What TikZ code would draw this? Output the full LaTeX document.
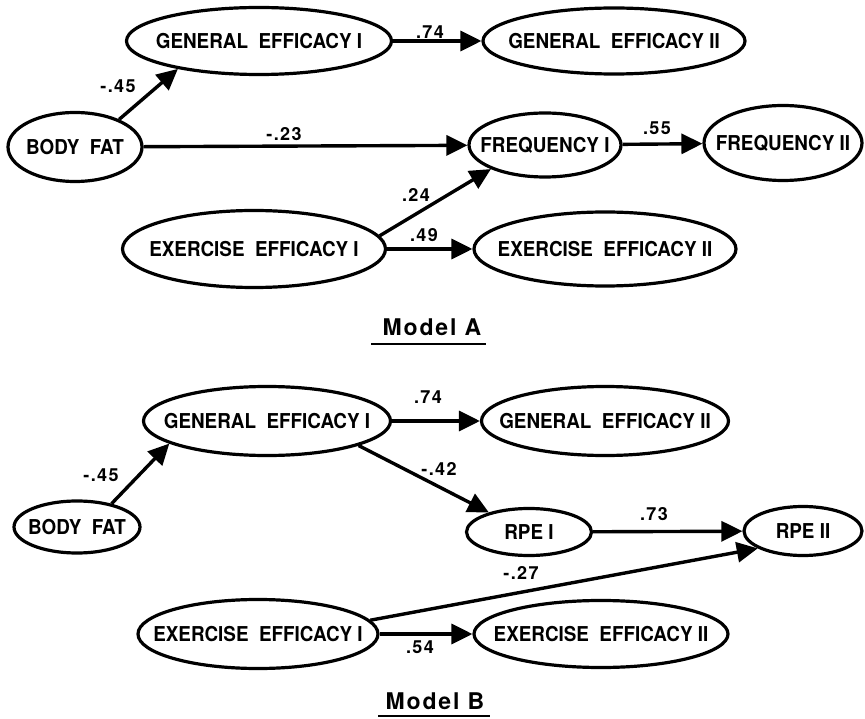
\documentclass[tikz,border=0pt]{standalone}
\usepackage{fontspec}
\setmainfont{TeX Gyre Heros}
\newfontfamily\titlefont[LetterSpace=8]{TeX Gyre Heros}
\newfontfamily\labfont[LetterSpace=8]{TeX Gyre Heros}
\newfontfamily\nodefont[FakeStretch=0.92]{TeX Gyre Heros}
\usetikzlibrary{shapes.geometric,arrows.meta}
\begin{document}
\begin{tikzpicture}[x=1pt,y=-1pt,
  var/.style={draw, ellipse, line width=3.2pt, inner sep=0pt,
    label={[inner sep=0pt, font=\fontsize{20.5}{22}\selectfont\nodefont\bfseries]center:#1}},
  lab/.style={inner sep=0pt, font=\fontsize{18}{20}\selectfont\labfont\bfseries},
  path/.style={line width=3.4pt, -{Triangle[length=21pt,width=20pt]}},
  ttl/.style={inner sep=0pt, font=\fontsize{23}{26}\selectfont\titlefont\bfseries},
  uline/.style={line width=2.6pt}]
\useasboundingbox (0,0) rectangle (865,719);
% ---------------- Model A
\node[var={GENERAL\ \ EFFICACY\ I}, minimum width=265pt, minimum height=67pt] (ageI) at (259,41) {};
\node[var={GENERAL\ \ EFFICACY\ II}, minimum width=262pt, minimum height=66pt] (ageII) at (614,41) {};
\node[var={BODY\ \ FAT}, minimum width=134pt, minimum height=69pt] (abf) at (75,147) {};
\node[var={FREQUENCY\ I}, minimum width=152pt, minimum height=64pt] (afrI) at (545,145) {};
\node[var={FREQUENCY\ II}, minimum width=158pt, minimum height=75pt] (afrII) at (783,143) {};
\node[var={EXERCISE\ \ EFFICACY\ I}, minimum width=263pt, minimum height=77pt] (aeeI) at (254,249) {};
\node[var={EXERCISE\ \ EFFICACY\ II}, minimum width=262pt, minimum height=74pt] (aeeII) at (605,249) {};

\draw[path] (abf.32) -- (ageI.199);
\draw[path] (ageI) -- (ageII);
\draw[path] (abf) -- (afrI);
\draw[path] (aeeI.6) -- (afrI.204);
\draw[path] (aeeI) -- (aeeII);
\draw[path] (afrI) -- (afrII);

\node[lab] (la1) at (118,86) {-.45};
\node[lab] (la2) at (430,32) {.74};
\node[lab] (la3) at (284,134) {-.23};
\node[lab] (la4) at (416,195) {.24};
\node[lab] (la5) at (424,235) {.49};
\node[lab] (la6) at (657,128) {.55};

\node[ttl] (ta) at (432,327) {Model A};
\coordinate (ua1) at (371,344);
\coordinate (ua2) at (486,344);
\draw[uline] (ua1) -- (ua2);

% ---------------- Model B
\node[var={GENERAL\ \ EFFICACY\ I}, minimum width=247pt, minimum height=69pt] (bgeI) at (267,421) {};
\node[var={GENERAL\ \ EFFICACY\ II}, minimum width=247pt, minimum height=69pt] (bgeII) at (605,421) {};
\node[var={BODY\ \ FAT}, minimum width=126pt, minimum height=52pt] (bbf) at (77,527) {};
\node[var={RPE\ I}, minimum width=125pt, minimum height=47pt] (brpI) at (529,532) {};
\node[var={RPE\ II}, minimum width=118pt, minimum height=49pt] (brpII) at (803,531) {};
\node[var={EXERCISE\ \ EFFICACY\ I}, minimum width=240pt, minimum height=69pt] (beeI) at (258,634) {};
\node[var={EXERCISE\ \ EFFICACY\ II}, minimum width=254pt, minimum height=67pt] (beeII) at (601,634) {};

\draw[path] (bbf.34) -- (bgeI.193);
\draw[path] (bgeI) -- (bgeII);
\draw[path] (bgeI.-15) -- (brpI.154);
\draw[path] (brpI) -- (brpII);
\draw[path] (beeI.7) -- (brpII.201);
\draw[path] (beeI) -- (beeII);

\node[lab] (lb1) at (101,475) {-.45};
\node[lab] (lb2) at (428,397) {.74};
\node[lab] (lb3) at (439,469) {-.42};
\node[lab] (lb4) at (654,514) {.73};
\node[lab] (lb5) at (521,573) {-.27};
\node[lab] (lb6) at (420,647) {.54};

\node[ttl] (tb) at (435,701) {Model B};
\coordinate (ub1) at (378,716);
\coordinate (ub2) at (490,716);
\draw[uline] (ub1) -- (ub2);
\end{tikzpicture}
\end{document}
